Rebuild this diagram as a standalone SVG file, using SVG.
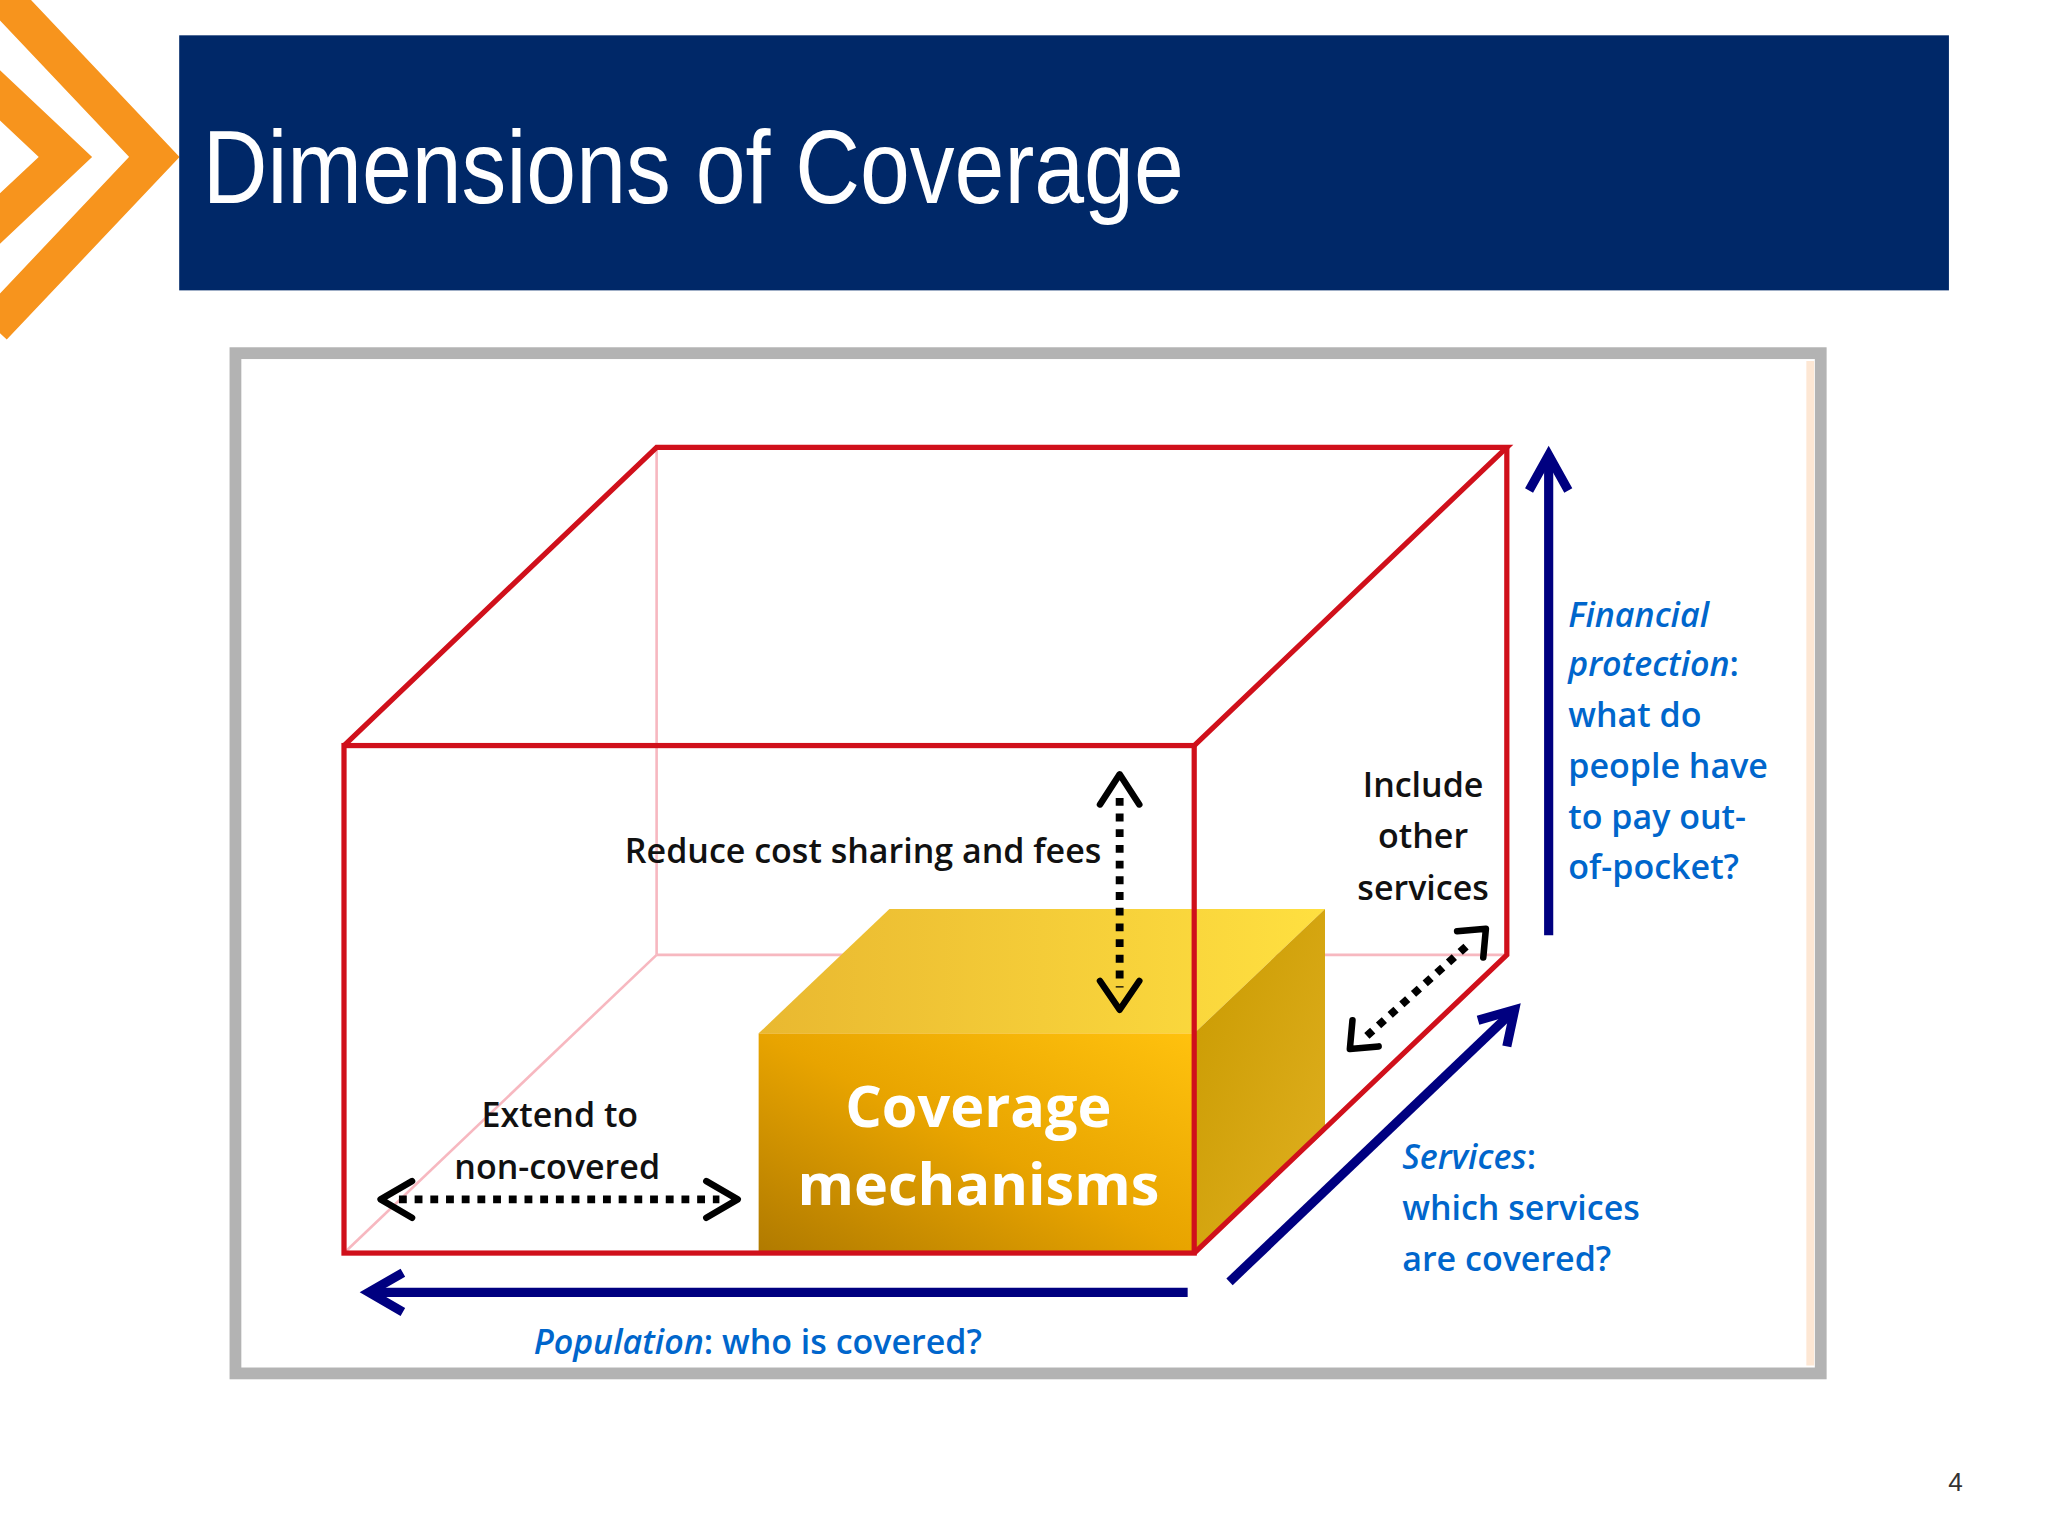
<svg xmlns="http://www.w3.org/2000/svg" width="2048" height="1536" viewBox="0 0 2048 1536">
<defs>
<style>
.red{stroke:#D0101B;stroke-width:4;fill:none}
.pink{stroke:#F7B8C0;stroke-width:2;fill:none}
.dot{stroke:#000;stroke-width:6;stroke-dasharray:6 6;fill:none}
.head{stroke:#000;stroke-width:5;fill:none;stroke-linecap:round;stroke-linejoin:round}
.nav{stroke:#000080;stroke-width:7;fill:none}
.navh{stroke:#000080;stroke-width:7;fill:none;stroke-linejoin:miter}
.lbl{font-family:"Open Sans","DejaVu Sans",sans-serif;font-size:26px;fill:#111;font-weight:600}
.blu{font-family:"Open Sans","DejaVu Sans",sans-serif;font-size:26px;fill:#0066CC;font-weight:600}
</style>
<linearGradient id="gf" x1="0" y1="1" x2="1" y2="0">
<stop offset="0" stop-color="#B07A00"/><stop offset="0.5" stop-color="#E8A400"/><stop offset="1" stop-color="#FFC20E"/>
</linearGradient>
<linearGradient id="gt" x1="0" y1="0" x2="1" y2="0">
<stop offset="0" stop-color="#E9B830"/><stop offset="1" stop-color="#FFE040"/>
</linearGradient>
<linearGradient id="gs" x1="0" y1="0" x2="1" y2="1">
<stop offset="0" stop-color="#C99A00"/><stop offset="1" stop-color="#E0B020"/>
</linearGradient>
</defs>
<rect width="2048" height="1536" fill="#fff"/>
<g transform="scale(1.308)">
<g id="chevrons" stroke="#F7941D" stroke-width="28" fill="none">
<polyline points="-5,-10 118,120 -5,250"/>
<polyline points="-35,40 50,120 -35,200"/>
</g>
<g id="title">
<rect x="137" y="27" width="1353" height="195" fill="#002868"/>
<text x="155" y="155" font-family="'Liberation Sans',sans-serif" font-size="80" fill="#fff" textLength="750" lengthAdjust="spacingAndGlyphs">Dimensions of Coverage</text>
</g>
<g id="frame">
<rect x="180" y="270" width="1212" height="780" fill="#fff" stroke="#B3B3B3" stroke-width="9"/>
<line x1="1384" y1="276" x2="1384" y2="1044" stroke="#FDE7D4" stroke-width="6"/>
</g>
<g id="box-hidden">
<line class="pink" x1="502" y1="342" x2="502" y2="730"/>
<line class="pink" x1="502" y1="730" x2="1152" y2="730"/>
<line class="pink" x1="502" y1="730" x2="263" y2="958"/>
</g>
<g id="cube">
<polygon points="580,790 680,695 1013,695 913,790" fill="url(#gt)"/>
<polygon points="913,790 1013,695 1013,865 913,958" fill="url(#gs)"/>
<rect x="580" y="790" width="333" height="168" fill="url(#gf)"/>
<text x="748" y="862" text-anchor="middle" font-family="'Open Sans',sans-serif" font-weight="bold" font-size="44" fill="#fff">Coverage</text>
<text x="748" y="921" text-anchor="middle" font-family="'Open Sans',sans-serif" font-weight="bold" font-size="44" fill="#fff">mechanisms</text>
</g>
<g id="box">
<rect class="red" x="263" y="570" width="650" height="388"/>
<polyline class="red" points="263,570 502,342 1152,342 913,570"/>
<polyline class="red" points="1152,342 1152,730 913,958"/>
</g>
<g id="connectors">
<line class="dot" x1="856" y1="610" x2="856" y2="755"/>
<polyline class="head" points="841,615 856,592 871,615"/>
<polyline class="head" points="841,750 856,772 871,750"/>
<line class="dot" x1="305" y1="917" x2="550" y2="917"/>
<polyline class="head" points="315,903 291,917 315,931"/>
<polyline class="head" points="540,903 564,917 540,931"/>
<line class="dot" x1="1045" y1="792" x2="1125" y2="720"/>
<polyline class="head" points="1034,780 1032,802 1054,800"/>
<polyline class="head" points="1114,712 1136,710 1134,732"/>
<line class="nav" x1="908" y1="988" x2="285" y2="988"/>
<polyline class="navh" points="308,973 282,988 308,1003"/>
<line class="nav" x1="1184" y1="715" x2="1184" y2="350"/>
<polyline class="navh" points="1169,375 1184,348 1199,375"/>
<line class="nav" x1="940" y1="980" x2="1157" y2="773"/>
<polyline class="navh" points="1130,780 1158,772 1152,800"/>
</g>
<g id="labels">
<text class="lbl" x="842" y="660" text-anchor="end">Reduce cost sharing and fees</text>
<text class="lbl" x="1088" y="609" text-anchor="middle">Include</text>
<text class="lbl" x="1088" y="648" text-anchor="middle">other</text>
<text class="lbl" x="1088" y="688" text-anchor="middle">services</text>
<text class="lbl" x="428" y="862" text-anchor="middle">Extend to</text>
<text class="lbl" x="426" y="901" text-anchor="middle">non-covered</text>
<text class="blu" x="408" y="1035"><tspan font-style="italic">Population</tspan>: who is covered?</text>
<text class="blu" x="1199" y="479" font-style="italic">Financial</text>
<text class="blu" x="1199" y="517"><tspan font-style="italic">protection</tspan>:</text>
<text class="blu" x="1199" y="556">what do</text>
<text class="blu" x="1199" y="595">people have</text>
<text class="blu" x="1199" y="634">to pay out-</text>
<text class="blu" x="1199" y="672">of-pocket?</text>
<text class="blu" x="1072" y="894"><tspan font-style="italic">Services</tspan>:</text>
<text class="blu" x="1072" y="933">which services</text>
<text class="blu" x="1072" y="972">are covered?</text>
</g>
<text x="1495" y="1140" text-anchor="middle" font-family="'Liberation Sans',sans-serif" font-size="20" fill="#333">4</text>
</g>
</svg>
